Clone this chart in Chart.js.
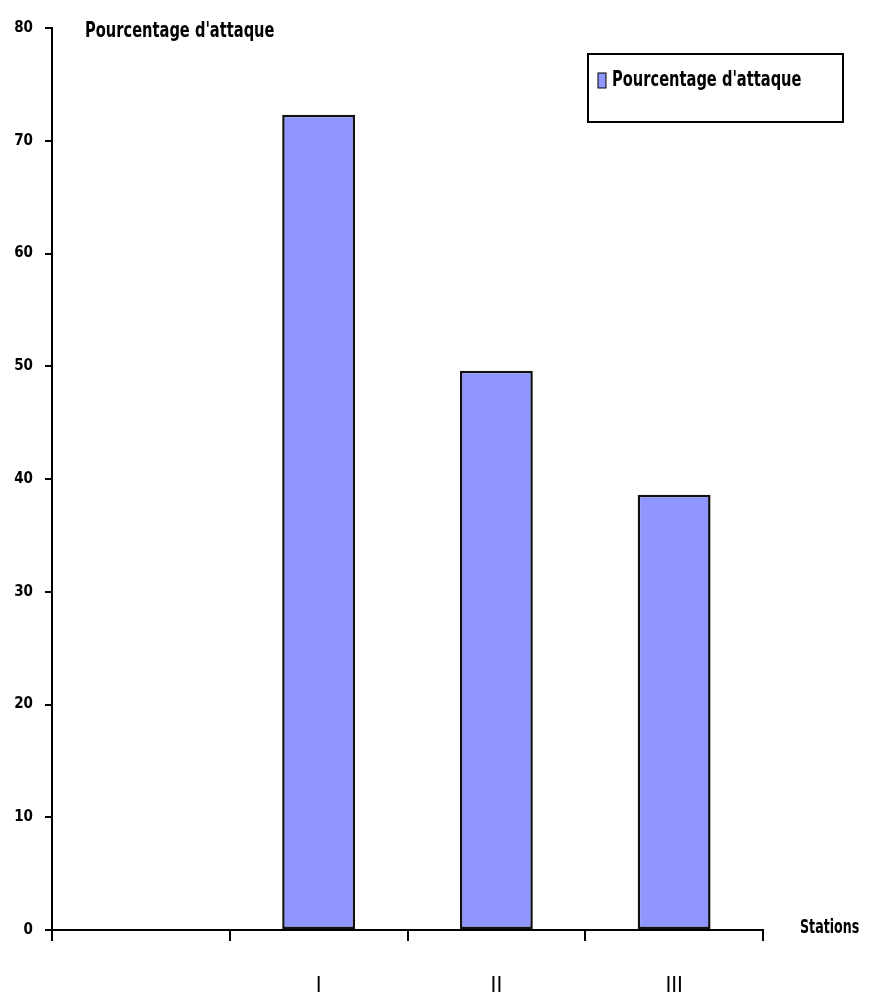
<!DOCTYPE html>
<html>
<head>
<meta charset="utf-8">
<script src="https://cdn.jsdelivr.net/npm/chart.js@4.4.1/dist/chart.umd.min.js"></script>
<style>
    html, body { margin: 0; padding: 0; background: #fff; }
    #wrap { width: 869px; height: 1000px; position: relative; }
</style>
</head>
<body>
<div id="wrap"><canvas id="chart"></canvas></div>
<script>
// Données du graphique
const stations = ['', 'I', 'II', 'III'];
const attaque = [null, 72.3, 49.6, 38.6];
const yTicks = [0, 10, 20, 30, 40, 50, 60, 70, 80];

const FONT = '"DejaVu Sans Condensed", "Liberation Sans Narrow", sans-serif';
const BAR_COLOR = '#8f96fe';

// texte compressé horizontalement
function narrowText(ctx, text, x, y, size, squeeze) {
    ctx.save();
    ctx.translate(x, y);
    ctx.scale(squeeze, 1);
    ctx.font = 'bold ' + size + 'px ' + FONT;
    ctx.textAlign = 'left';
    ctx.textBaseline = 'middle';
    ctx.fillText(text, 0, 0);
    ctx.restore();
}

// Titres des axes et légende encadrée
const decorPlugin = {
    id: 'decor',
    afterDraw(chart) {
        const ctx = chart.ctx;
        const area = chart.chartArea;
        ctx.save();
        ctx.fillStyle = '#000';
        narrowText(ctx, "Pourcentage d'attaque", area.left + 33, area.top + 3, 22, 0.74);
        narrowText(ctx, 'Stations', area.right + 37, area.bottom - 2, 19, 0.74);

        // Légende
        const ds = chart.data.datasets[0];
        ctx.lineWidth = 2;
        ctx.strokeStyle = '#000';
        ctx.strokeRect(588, 54, 255, 68);
        ctx.fillStyle = ds.backgroundColor;
        ctx.fillRect(598, 73, 8, 15);
        ctx.lineWidth = 1;
        ctx.strokeRect(598, 73, 8, 15);
        ctx.fillStyle = '#000';
        narrowText(ctx, ds.label, 612, 80, 22, 0.74);
        ctx.restore();
    }
};

new Chart(document.getElementById('chart'), {
    type: 'bar',
    data: {
        labels: stations,
        datasets: [{
            label: "Pourcentage d'attaque",
            data: attaque,
            backgroundColor: BAR_COLOR,
            borderColor: '#111',
            borderWidth: 2.5,
            borderSkipped: false,
            barPercentage: 0.41,
            categoryPercentage: 1
        }]
    },
    options: {
        responsive: true,
        maintainAspectRatio: false,
        animation: false,
        layout: {
            padding: { top: 28, right: 106, bottom: 0, left: 0 }
        },
        plugins: {
            legend: { display: false },
            tooltip: { enabled: false }
        },
        scales: {
            x: {
                offset: true,
                grid: {
                    offset: true,
                    drawOnChartArea: false,
                    color: '#000',
                    lineWidth: 2,
                    tickLength: 11
                },
                border: { color: '#000', width: 2 },
                ticks: {
                    color: '#000',
                    font: { family: FONT, size: 22 },
                    padding: 32,
                    maxRotation: 0
                },
                afterFit(scale) { scale.height = 70; }
            },
            y: {
                min: 0,
                max: 80,
                afterBuildTicks(scale) {
                    scale.ticks = yTicks.map(v => ({ value: v }));
                },
                grid: {
                    drawOnChartArea: false,
                    color: '#000',
                    lineWidth: 2,
                    tickLength: 7
                },
                border: { color: '#000', width: 2 },
                ticks: {
                    color: '#000',
                    font: { family: FONT, size: 15, weight: 'bold' },
                    padding: 12
                },
                afterFit(scale) { scale.width = 52; }
            }
        }
    },
    plugins: [decorPlugin]
});
</script>
</body>
</html>
